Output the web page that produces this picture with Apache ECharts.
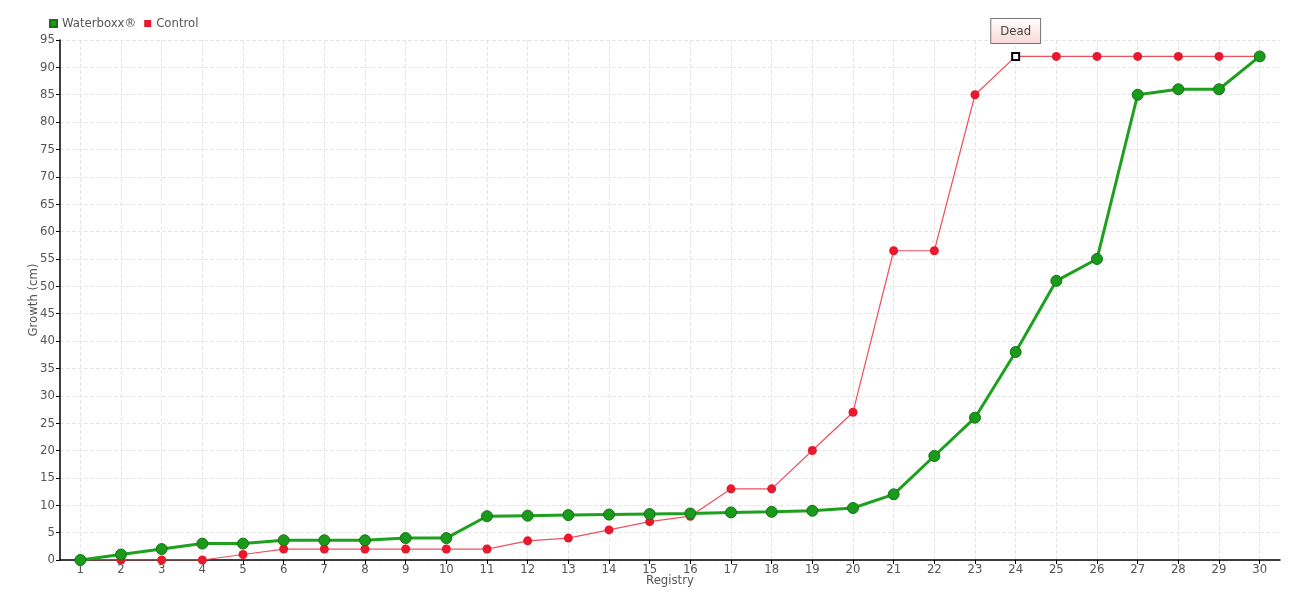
<!DOCTYPE html>
<html>
<head>
<meta charset="utf-8">
<script src="https://cdn.jsdelivr.net/npm/echarts@6/dist/echarts.min.js"></script>
<style>
  html, body { margin: 0; padding: 0; background: #fff; }
  #chart { width: 1300px; height: 600px; }
</style>
</head>
<body>
<div id="chart"></div>
<script>
// registry numbers along x
const registry = [1, 2, 3, 4, 5, 6, 7, 8, 9, 10, 11, 12, 13, 14, 15, 16, 17, 18, 19, 20, 21, 22, 23, 24, 25, 26, 27, 28, 29, 30];
// growth in cm
const waterboxx = [0, 1, 2, 3, 3, 3.6, 3.6, 3.6, 4, 4, 8, 8.1, 8.2, 8.3, 8.4, 8.5, 8.7, 8.8, 9, 9.5, 12, 19, 26, 38, 51, 55, 85, 86, 86, 92];
const control = [0, 0, 0, 0, 1, 2, 2, 2, 2, 2, 2, 3.5, 4, 5.5, 7, 8, 13, 13, 20, 27, 56.5, 56.5, 85, 92, 92, 92, 92, 92, 92, 92];
const deadIndex = 23; // registry 24

const font = "'DejaVu Sans Condensed', 'Liberation Sans Narrow', sans-serif";
const textColor = "#555";

const waterboxxData = waterboxx.map((v, i) => [registry[i], v]);
const controlData = control.map((v, i) => {
  if (i !== deadIndex) return [registry[i], v];
  return {
    value: [registry[i], v],
    symbol: "rect",
    symbolSize: 7,
    itemStyle: { color: "#fff", borderColor: "#000", borderWidth: 2 },
    label: {
      show: true,
      position: "top",
      distance: 9,
      formatter: "Dead",
      color: "#444",
      fontFamily: font,
      fontSize: 13,
      padding: [6, 9, 5, 9],
      borderColor: "#777",
      borderWidth: 1,
      backgroundColor: {
        type: "linear", x: 0, y: 0, x2: 0, y2: 1,
        colorStops: [
          { offset: 0, color: "#ffffff" },
          { offset: 1, color: "#fbd6d6" },
        ],
      },
    },
  };
});

const chart = echarts.init(document.getElementById("chart"));
chart.setOption({
  animation: false,
  textStyle: { fontFamily: font },
  legend: {
    left: 44,
    top: 12,
    itemWidth: 7,
    itemHeight: 7,
    itemGap: 8,
    icon: "rect",
    textStyle: { color: textColor, fontSize: 13, fontFamily: font },
    data: ["Waterboxx®", "Control"],
  },
  grid: { left: 60, right: 20, top: 40, bottom: 40, containLabel: false },
  xAxis: {
    type: "value",
    min: 0.5,
    max: 30.5,
    name: "Registry",
    nameLocation: "middle",
    nameGap: 14,
    nameMoveOverlap: false,
    nameTextStyle: { color: textColor, fontSize: 13, verticalAlign: "top" },
    axisLine: { lineStyle: { color: "#000", width: 1.5 } },
    axisTick: { customValues: registry, length: 4, lineStyle: { color: "#000" } },
    axisLabel: { customValues: registry, color: textColor, fontSize: 13, margin: 3 },
    splitLine: { show: false },
  },
  yAxis: {
    type: "value",
    min: 0,
    max: 95,
    interval: 5,
    name: "Growth (cm)",
    nameLocation: "middle",
    nameGap: 20,
    nameMoveOverlap: false,
    nameTextStyle: { color: textColor, fontSize: 13 },
    axisLine: { show: true, lineStyle: { color: "#000", width: 1.5 } },
    axisTick: { show: true, length: 4, lineStyle: { color: "#000" } },
    axisLabel: { color: textColor, fontSize: 13, margin: 5 },
    splitLine: { lineStyle: { color: "#e6e6e6", type: "dashed" } },
  },
  series: [
    {
      // vertical dashed grid lines at each registry
      type: "line",
      data: [],
      z: 0,
      silent: true,
      markLine: {
        z: 0,
        silent: true,
        symbol: "none",
        label: { show: false },
        lineStyle: { color: "#e6e6e6", type: "dashed", width: 1 },
        emphasis: { disabled: true },
        data: registry.map((r) => ({ xAxis: r })),
      },
    },
    {
      name: "Control",
      type: "line",
      data: controlData,
      z: 2,
      symbol: "circle",
      symbolSize: 9,
      color: "#e8192c",
      lineStyle: { color: "#f0505e", width: 1.2 },
      itemStyle: { color: "#e8192c" },
    },
    {
      name: "Waterboxx®",
      type: "line",
      data: waterboxxData,
      z: 3,
      symbol: "circle",
      symbolSize: 11,
      color: "#1a9e1a",
      lineStyle: { color: "#1ea01e", width: 3 },
      itemStyle: { color: "#1a9a1a", borderColor: "#137313", borderWidth: 1 },
    },
  ],
});
</script>
</body>
</html>
